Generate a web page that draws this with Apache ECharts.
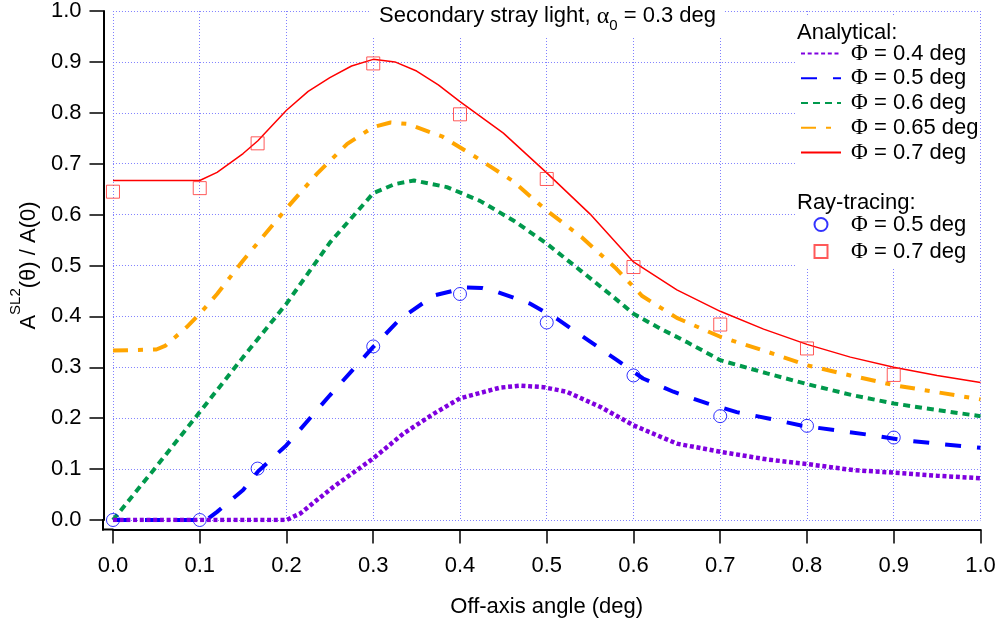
<!DOCTYPE html>
<html><head><meta charset="utf-8">
<script src="https://cdn.jsdelivr.net/npm/echarts@6/dist/echarts.min.js"></script>
<style>html,body{margin:0;padding:0;background:#fff}#c{width:1000px;height:624px}</style>
</head><body><div id="c"></div>
<script>
// ---- Data ----
const phiLabels = ['0.4', '0.5', '0.6', '0.65', '0.7'];

const phi04X = [0, 0.1, 0.2, 0.216, 0.254, 0.3, 0.335, 0.37, 0.4, 0.446, 0.47, 0.496, 0.523, 0.562, 0.6, 0.65, 0.7, 0.754, 0.8, 0.853, 0.9, 0.95, 1.0];
const phi04Y = [0, 0, 0, 0.013, 0.065, 0.121, 0.17, 0.209, 0.239, 0.26, 0.264, 0.261, 0.252, 0.222, 0.186, 0.150, 0.134, 0.119, 0.11, 0.098, 0.093, 0.087, 0.082];

const phi05X = [0, 0.1, 0.11, 0.12, 0.15, 0.167, 0.2, 0.25, 0.3, 0.331, 0.37, 0.408, 0.425, 0.443, 0.481, 0.512, 0.548, 0.581, 0.611, 0.646, 0.685, 0.719, 0.757, 0.792, 0.834, 0.873, 0.911, 0.95, 1.0];
const phi05Y = [0, 0, 0.003, 0.016, 0.059, 0.095, 0.147, 0.245, 0.34, 0.395, 0.441, 0.457, 0.456, 0.448, 0.425, 0.395, 0.353, 0.314, 0.278, 0.252, 0.229, 0.212, 0.199, 0.186, 0.176, 0.167, 0.157, 0.150, 0.142];

const phi06X = [0, 0.05, 0.1, 0.15, 0.2, 0.25, 0.3, 0.325, 0.347, 0.385, 0.423, 0.462, 0.5, 0.539, 0.577, 0.6, 0.631, 0.661, 0.7, 0.754, 0.8, 0.853, 0.9, 0.95, 1.0];
const phi06Y = [0, 0.105, 0.212, 0.32, 0.425, 0.545, 0.642, 0.66, 0.667, 0.654, 0.627, 0.588, 0.543, 0.49, 0.438, 0.405, 0.376, 0.35, 0.314, 0.288, 0.267, 0.245, 0.229, 0.216, 0.204];

const phi065X = [0, 0.05, 0.06, 0.085, 0.1, 0.12, 0.15, 0.2, 0.235, 0.27, 0.3, 0.32, 0.34, 0.38, 0.42, 0.46, 0.5, 0.54, 0.58, 0.61, 0.65, 0.7, 0.75, 0.8, 0.85, 0.9, 0.95, 1.0];
const phi065Y = [0.333, 0.335, 0.342, 0.379, 0.405, 0.444, 0.51, 0.612, 0.68, 0.739, 0.772, 0.781, 0.778, 0.753, 0.711, 0.667, 0.608, 0.556, 0.494, 0.44, 0.397, 0.36, 0.333, 0.304, 0.284, 0.265, 0.251, 0.237];

const phi07X = [0, 0.05, 0.1, 0.12, 0.15, 0.167, 0.2, 0.225, 0.25, 0.275, 0.3, 0.325, 0.35, 0.375, 0.4, 0.45, 0.5, 0.55, 0.6, 0.65, 0.7, 0.75, 0.8, 0.85, 0.9, 0.95, 1.0];
const phi07Y = [0.667, 0.667, 0.667, 0.683, 0.72, 0.745, 0.805, 0.842, 0.869, 0.892, 0.905, 0.9, 0.882, 0.855, 0.822, 0.76, 0.682, 0.601, 0.507, 0.452, 0.41, 0.375, 0.345, 0.32, 0.30, 0.284, 0.27];

const rayX = [0, 0.1, 0.1667, 0.3, 0.4, 0.5, 0.6, 0.7, 0.8, 0.9];
const ray05Y = [0, 0, 0.101, 0.341, 0.444, 0.388, 0.284, 0.204, 0.185, 0.162];
const ray07Y = [0.645, 0.652, 0.74, 0.897, 0.797, 0.67, 0.497, 0.384, 0.337, 0.285];

const xTicks = [0, 0.1, 0.2, 0.3, 0.4, 0.5, 0.6, 0.7, 0.8, 0.9, 1.0];
const yTicks = [0, 0.1, 0.2, 0.3, 0.4, 0.5, 0.6, 0.7, 0.8, 0.9, 1.0];

// ---- Build ----
const zip = (xs, ys) => xs.map((x, i) => [x, ys[i]]);
const FONT = 'Liberation Sans';
const FS = 22;
const anaName = p => 'Analytical Φ = ' + p + ' deg';
const rayName = p => 'Ray-tracing Φ = ' + p + ' deg';

const lineDefs = [
  {p: '0.7', xs: phi07X, ys: phi07Y, color: '#FF0000', width: 1.5, type: 'solid', z: 3},
  {p: '0.65', xs: phi065X, ys: phi065Y, color: '#FFA500', width: 4, type: [15, 10, 5, 10], z: 4},
  {p: '0.6', xs: phi06X, ys: phi06Y, color: '#00994C', width: 4, type: [7, 5], z: 5},
  {p: '0.5', xs: phi05X, ys: phi05Y, color: '#0000FF', width: 4, type: [16, 16], z: 6},
  {p: '0.4', xs: phi04X, ys: phi04Y, color: '#7F00DF', width: 4.5, type: [4, 2.7], z: 7}
];

const series = lineDefs.map(d => ({
  name: anaName(d.p),
  type: 'line',
  data: zip(d.xs, d.ys),
  showSymbol: false,
  symbol: 'none',
  smooth: false,
  z: d.z,
  lineStyle: {color: d.color, width: d.width, type: d.type, cap: 'butt'},
  itemStyle: {color: d.color},
  emphasis: {disabled: true},
  animation: false
}));

series.push({
  name: rayName('0.5'), type: 'scatter', data: zip(rayX, ray05Y),
  symbol: 'circle', symbolSize: 13, z: 8,
  itemStyle: {color: 'rgba(0,0,0,0)', borderColor: '#0000FF', borderWidth: 1},
  emphasis: {disabled: true}, animation: false
});
series.push({
  name: rayName('0.7'), type: 'scatter', data: zip(rayX, ray07Y),
  symbol: 'rect', symbolSize: 13, z: 8,
  itemStyle: {color: 'rgba(0,0,0,0)', borderColor: '#FF3030', borderWidth: 1},
  emphasis: {disabled: true}, animation: false
});

const legendFmt = name => '{phi|Φ}{t|' + name.split('Φ')[1] + '}';
const legendText = pad => ({
  color: '#000', fontSize: FS, fontFamily: FONT, lineHeight: 22, padding: [0, 0, 0, pad],
  rich: {
    phi: {fontFamily: 'Liberation Serif', fontSize: 23, color: '#000', lineHeight: 22},
    t: {fontFamily: FONT, fontSize: FS, color: '#000', lineHeight: 22}
  }
});

const axisCommon = {
  type: 'value', min: 0, max: 1, interval: 0.1,
  axisLine: {show: true, onZero: false, lineStyle: {color: '#000', width: 2}},
  axisTick: {show: true, inside: false, length: 14, lineStyle: {color: '#000', width: 1.5}},
  axisLabel: {color: '#000', fontSize: FS, fontFamily: FONT, formatter: v => v.toFixed(1)},
  splitLine: {show: true, lineStyle: {color: '#8080FF', width: 1, type: [1, 2]}}
};

const option = {
  backgroundColor: '#fff',
  animation: false,
  textStyle: {fontFamily: FONT},
  title: {
    text: '{t|Secondary stray light, }{al|α}{sub|0}{t| = 0.3 deg}',
    left: 371, top: 0,
    padding: [5, 8, 4, 8],
    backgroundColor: '#fff',
    textStyle: {
      fontSize: FS, fontWeight: 'normal', color: '#000', fontFamily: FONT,
      rich: {
        t: {fontSize: FS, fontFamily: FONT, color: '#000', lineHeight: 22, verticalAlign: 'top'},
        al: {fontSize: 24, fontFamily: 'Liberation Serif', color: '#000', lineHeight: 22, verticalAlign: 'top'},
        sub: {fontSize: 15, fontFamily: FONT, color: '#000', lineHeight: 15, padding: [13, 0, 0, 0], verticalAlign: 'top'}
      }
    },
    z: 6
  },
  grid: {left: 112.5, right: 19.5, top: 10, bottom: 104, containLabel: false},
  xAxis: Object.assign({}, axisCommon, {
    position: 'bottom', offset: 9.5,
    axisLabel: Object.assign({}, axisCommon.axisLabel, {margin: 25}),
    name: 'Off-axis angle (deg)', nameLocation: 'middle', nameGap: 66,
    nameTextStyle: {color: '#000', fontSize: FS, fontFamily: FONT}
  }),
  yAxis: Object.assign({}, axisCommon, {
    position: 'left', offset: 9.5,
    axisLabel: Object.assign({}, axisCommon.axisLabel, {margin: 22}),
    name: '{a|A}{sup|SL2}{a|(θ) / A(0)}', nameLocation: 'middle', nameGap: 62, nameRotate: 90,
    nameTextStyle: {
      color: '#000', fontSize: FS, fontFamily: FONT,
      rich: {
        a: {fontSize: FS, fontFamily: FONT, color: '#000', lineHeight: 22, verticalAlign: 'bottom'},
        sup: {fontSize: 15, fontFamily: FONT, color: '#000', lineHeight: 32, verticalAlign: 'top'}
      }
    }
  }),
  legend: [
    {
      data: phiLabels.map(anaName), orient: 'vertical', left: 800, top: 42, padding: 0,
      itemWidth: 40, itemHeight: 14, itemGap: 1.75, selectedMode: false,
      itemStyle: {opacity: 0},
      formatter: legendFmt, textStyle: legendText(5), z: 6
    },
    {
      data: [rayName('0.5'), rayName('0.7')], orient: 'vertical', left: 813.5, top: 213, padding: 0,
      itemWidth: 13, itemHeight: 13, itemGap: 4, selectedMode: false,
      formatter: legendFmt, textStyle: legendText(18.5), z: 6
    }
  ],
  graphic: [
    {type: 'rect', z: 1, shape: {x: 795, y: 15, width: 183, height: 252}, style: {fill: '#fff'}},
    {type: 'text', z: 6, style: {text: 'Analytical:', x: 797, y: 33, fontSize: FS, fontFamily: FONT, fill: '#000', verticalAlign: 'middle'}},
    {type: 'text', z: 6, style: {text: 'Ray-tracing:', x: 797, y: 203, fontSize: FS, fontFamily: FONT, fill: '#000', verticalAlign: 'middle'}},
    // close the gap where the offset axis lines meet at the corner
    {type: 'line', z: 6, shape: {x1: 103, y1: 519, x2: 103, y2: 530.5}, style: {stroke: '#000', lineWidth: 2}},
    {type: 'line', z: 6, shape: {x1: 102, y1: 529.5, x2: 113.5, y2: 529.5}, style: {stroke: '#000', lineWidth: 2}}
  ],
  series: series
};

const chart = echarts.init(document.getElementById('c'), null, {renderer: 'canvas'});
chart.setOption(option);
</script>
</body></html>
